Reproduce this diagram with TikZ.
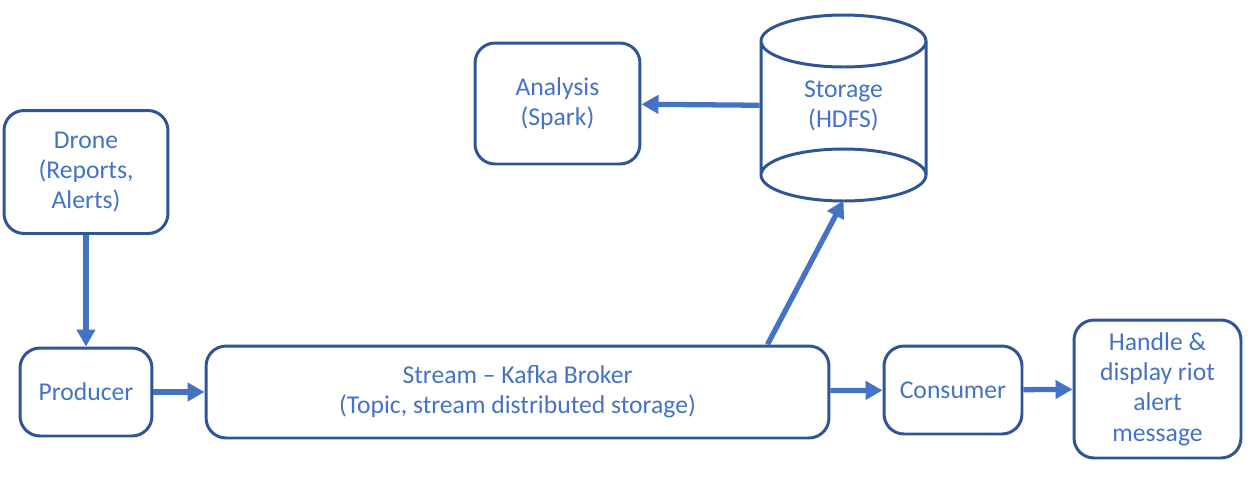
\documentclass[tikz,border=0pt]{standalone}
\usepackage{fontspec}
\setmainfont{Carlito}
\usepackage{xcolor}
\usepackage{tikz}
\usetikzlibrary{shapes,shapes.geometric}
\usetikzlibrary{calc,arrows,arrows.meta,positioning}
\definecolor{boxline}{HTML}{2F5597}
\definecolor{flow}{HTML}{4472C4}

\begin{document}
\begin{tikzpicture}
		[x=0.02cm,y=-0.02cm,
		every node/.style={shape=rectangle,rounded corners=0.4cm,draw=boxline,line width=1.7pt,
			align=center,text=flow,inner sep=2pt,font=\fontsize{14.6}{17.2}\selectfont},
		flowline/.style={draw=flow,line width=3pt,-{Triangle[length=0.34cm,width=0.36cm]}}]
		\useasboundingbox (0,0) rectangle (1258,498);
		\node[minimum width=3.28cm,minimum height=2.46cm] (drone) at (86,172) {Drone\\(Reports,\\Alerts)};
		\node[minimum width=2.64cm,minimum height=1.76cm] (producer) at (86,392) {Producer};
		\node[minimum width=12.46cm,minimum height=1.84cm] (stream) at (517.5,392) {Stream -- Kafka Broker\\(Topic, stream distributed storage)};
		\node[minimum width=2.76cm,minimum height=1.76cm] (consumer) at (953,390) {Consumer};
		\node[minimum width=3.34cm,minimum height=2.76cm] (handle) at (1157.5,389) {Handle \&\\display riot\\alert\\message};
		\node[minimum width=3.3cm,minimum height=2.42cm] (analysis) at (557.5,103.5) {Analysis\\(Spark)};
		% storage drum
		\node[draw=none,minimum width=3.3cm,minimum height=3.72cm] (storage) at (843.5,106) {Storage\\(HDFS)};
		\draw[boxline,line width=1.7pt] (761,41) -- (761,175) (926,41) -- (926,175)
		(843.5,41) ellipse [x radius=1.65cm,y radius=0.52cm]
		(843.5,175) ellipse [x radius=1.65cm,y radius=0.52cm];
		\path
		\foreach \startNode/\endNode in {drone/producer,producer/stream,stream/consumer,consumer/handle,storage/analysis}
		{
			(\startNode) edge[flowline] (\endNode)
		};
		\draw[flowline] ([xshift=5cm]stream.north) -- (storage.south);
		\end{tikzpicture}
\end{document}
